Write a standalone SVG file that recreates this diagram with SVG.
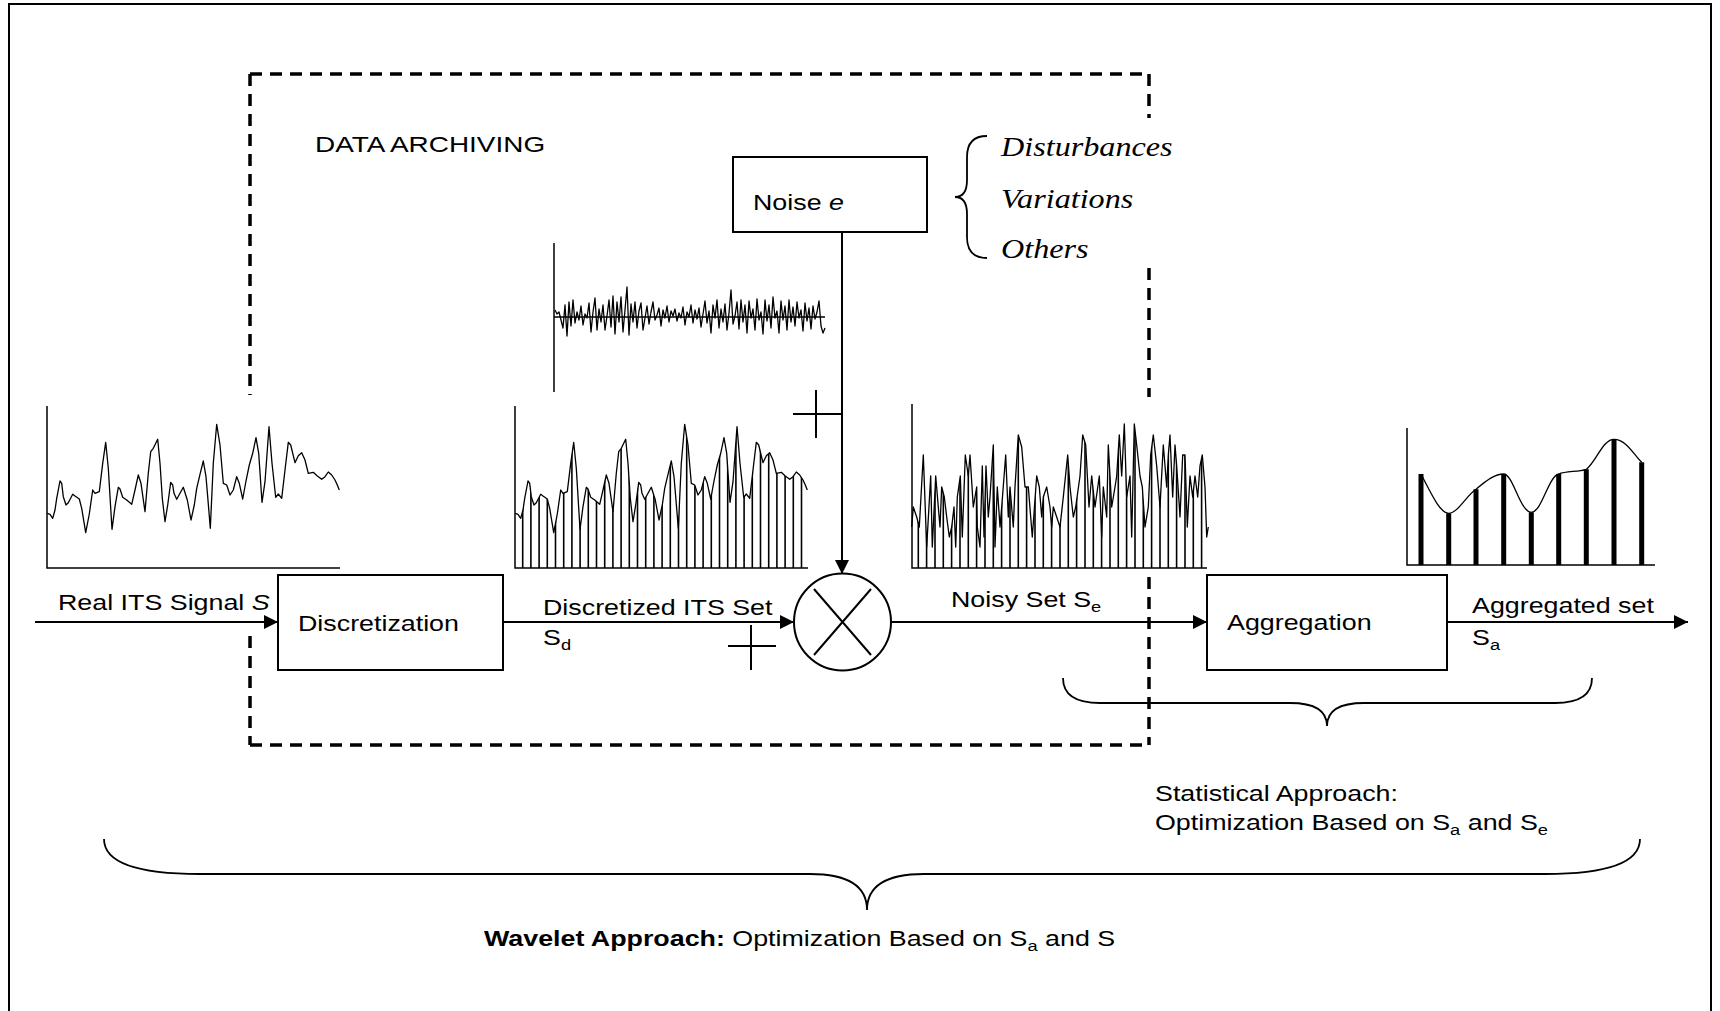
<svg xmlns="http://www.w3.org/2000/svg" xmlns:xlink="http://www.w3.org/1999/xlink" width="1720" height="1011" viewBox="0 0 1720 1011">
  <style>
    .frame { fill: none; stroke: #000; stroke-width: 2; }
    .box { fill: #fff; stroke: #000; stroke-width: 2; }
    .line { fill: none; stroke: #000; stroke-width: 2; }
    .flow { fill: none; stroke: #000; stroke-width: 2; marker-end: url(#arrow); }
    .dash { fill: none; stroke: #000; stroke-width: 3.5; stroke-dasharray: 12 8; }
    .axis { fill: none; stroke: #000; stroke-width: 1.5; }
    .curve { fill: none; stroke: #000; stroke-width: 1.3; stroke-linejoin: round; }
    .bars { fill: none; stroke: #000; stroke-width: 1.6; }
    .bigbars { fill: none; stroke: #000; stroke-width: 5; }
    .brace { fill: none; stroke: #000; stroke-width: 1.8; }
    .lbl { font-family: "Liberation Sans", Arial, sans-serif; font-size: 22px; fill: #000; }
    .sub { font-size: 15px; }
    .it { font-family: "Liberation Serif", "Times New Roman", serif; font-style: italic; font-size: 28px; fill: #000; }
  </style>
  <defs>
    <marker id="arrow" viewBox="0 0 10 10" refX="10" refY="5" markerWidth="16" markerHeight="14" markerUnits="userSpaceOnUse" orient="auto">
      <path d="M0,0 L10,5 L0,10 Z" fill="#000"/>
    </marker>
    <!-- sampled ITS signal, reused for the raw and the discretized plots -->
    <path id="sig" d="M47.3,513.3 L50,514.3 52.7,518.3 55,510 56.7,498.3 60,481 61.7,483.3 63.3,496.7 66,505 68.3,502.7 72.7,494.3 75,496 79.3,499 81.7,508.3 85.7,532.7 89.3,514 92.7,490 95,493.3 99.3,491.7 102.7,463.3 105.7,442.3 108.3,468.3 112,529.3 115,506.7 118.3,487.3 120,489 122.7,497.3 126.7,500 131.7,504.3 135,490 138.3,475 141,483.3 145,511.7 148.3,473.3 150.7,451.7 153.3,448.3 157.7,439.3 160,463.3 162.3,498.3 165,521.7 167.7,505 170.7,482.3 172.7,485 174,493.3 176.7,499.3 183.3,487.3 187.3,500 191,520 194.3,505 196.7,488.3 200,474.3 203.3,461 206,476.7 207.7,496.7 210.3,528.3 213.3,463.3 216.7,424.3 220,445 223.3,483.3 226.7,485 230,495 233.3,490 236.7,476.7 239.3,483.3 242.7,499 246,481 249.3,465 252.7,453.3 256,437.7 258.7,453.3 262,502.3 265,481.7 269,426.7 272,463.3 275.7,497.3 278.3,494 281.7,498.3 285,470 288.3,442.3 290.7,445 295,462.7 298.3,455.7 301.7,452.7 305,460 308.3,473.3 313.3,472.3 317.3,476 321.7,479.3 325,476.7 328.3,472 331.7,475 335,480 337.3,485 339.3,490"/>
    <!-- noisy set curve -->
    <path id="noisy" d="M911.7,527 L913.3,507 916.7,517 919.3,527 923.3,455 926.7,547 930.7,476 932.3,547 935.7,476 938.3,507 940,527 941.7,487 944.3,497 946.7,517 949.3,537 951.7,527 954,507 955.7,547 957.3,497 960.3,476 962.3,537 965.3,455 968.3,476 970,455 973.3,507 976.7,487 977.3,527 980,547 982.3,466 984,537 986,466 988.3,517 990,497 993.3,445 995,547 997.3,487 1000,527 1001.7,507 1005.7,455 1008.3,517 1010,487 1013.3,527 1015,487 1018.3,435 1021.7,447 1025,487 1028.3,487 1032.3,537 1036.7,476 1039.3,487 1041.7,517 1043.3,497 1046.7,487 1050,507 1051.7,527 1053.3,507 1056.7,517 1060,527 1063.3,497 1067.7,455 1070,487 1073.3,517 1075.7,507 1080,476 1082.7,435 1085.7,445 1089,507 1091.7,476 1095,507 1099.3,476 1101.7,537 1103.3,487 1106.7,517 1108.3,445 1111.7,507 1115,487 1116.7,476 1119.3,435 1121.7,476 1124.3,424 1126.7,497 1130,476 1131.7,537 1134.3,424 1136.7,445 1140,476 1142.3,487 1145,527 1148.3,507 1150.7,455 1153.3,435 1156.7,466 1160,507 1163.3,445 1166.7,487 1168.3,455 1170,435 1172.7,497 1175,445 1176.7,466 1180,517 1182.7,455 1185,455 1187.3,527 1190,476 1192.7,497 1195,476 1197.7,497 1200,466 1202.3,455 1205,487 1206.7,537 1208.3,527"/>
    <clipPath id="underSig">
      <path transform="translate(468,0)" d="M47.3,513.3 L50,514.3 52.7,518.3 55,510 56.7,498.3 60,481 61.7,483.3 63.3,496.7 66,505 68.3,502.7 72.7,494.3 75,496 79.3,499 81.7,508.3 85.7,532.7 89.3,514 92.7,490 95,493.3 99.3,491.7 102.7,463.3 105.7,442.3 108.3,468.3 112,529.3 115,506.7 118.3,487.3 120,489 122.7,497.3 126.7,500 131.7,504.3 135,490 138.3,475 141,483.3 145,511.7 148.3,473.3 150.7,451.7 153.3,448.3 157.7,439.3 160,463.3 162.3,498.3 165,521.7 167.7,505 170.7,482.3 172.7,485 174,493.3 176.7,499.3 183.3,487.3 187.3,500 191,520 194.3,505 196.7,488.3 200,474.3 203.3,461 206,476.7 207.7,496.7 210.3,528.3 213.3,463.3 216.7,424.3 220,445 223.3,483.3 226.7,485 230,495 233.3,490 236.7,476.7 239.3,483.3 242.7,499 246,481 249.3,465 252.7,453.3 256,437.7 258.7,453.3 262,502.3 265,481.7 269,426.7 272,463.3 275.7,497.3 278.3,494 281.7,498.3 285,470 288.3,442.3 290.7,445 295,462.7 298.3,455.7 301.7,452.7 305,460 308.3,473.3 313.3,472.3 317.3,476 321.7,479.3 325,476.7 328.3,472 331.7,475 335,480 337.3,485 339.3,490 L339.3,569 L47.3,569 Z"/>
    </clipPath>
    <clipPath id="underNoisy">
      <path d="M911.7,527 L913.3,507 916.7,517 919.3,527 923.3,455 926.7,547 930.7,476 932.3,547 935.7,476 938.3,507 940,527 941.7,487 944.3,497 946.7,517 949.3,537 951.7,527 954,507 955.7,547 957.3,497 960.3,476 962.3,537 965.3,455 968.3,476 970,455 973.3,507 976.7,487 977.3,527 980,547 982.3,466 984,537 986,466 988.3,517 990,497 993.3,445 995,547 997.3,487 1000,527 1001.7,507 1005.7,455 1008.3,517 1010,487 1013.3,527 1015,487 1018.3,435 1021.7,447 1025,487 1028.3,487 1032.3,537 1036.7,476 1039.3,487 1041.7,517 1043.3,497 1046.7,487 1050,507 1051.7,527 1053.3,507 1056.7,517 1060,527 1063.3,497 1067.7,455 1070,487 1073.3,517 1075.7,507 1080,476 1082.7,435 1085.7,445 1089,507 1091.7,476 1095,507 1099.3,476 1101.7,537 1103.3,487 1106.7,517 1108.3,445 1111.7,507 1115,487 1116.7,476 1119.3,435 1121.7,476 1124.3,424 1126.7,497 1130,476 1131.7,537 1134.3,424 1136.7,445 1140,476 1142.3,487 1145,527 1148.3,507 1150.7,455 1153.3,435 1156.7,466 1160,507 1163.3,445 1166.7,487 1168.3,455 1170,435 1172.7,497 1175,445 1176.7,466 1180,517 1182.7,455 1185,455 1187.3,527 1190,476 1192.7,497 1195,476 1197.7,497 1200,466 1202.3,455 1205,487 1206.7,537 1208.3,527 L1208.3,569 L911.7,569 Z"/>
    </clipPath>
  </defs>

  <rect width="1720" height="1011" fill="#fff"/>
  <rect class="frame" x="9" y="4" width="1702" height="1030"/>

  <!-- archiving boundary (dashed, interrupted around plots and labels) -->
  <g id="data-archiving">
    <path class="dash" d="M250,74 H1149 M1149,74 V118 M1149,268 V397 M1149,577 V745 M250,745 H1149 M250,74 V395 M250,636 V745"/>
    <text class="lbl" transform="translate(315,152) scale(1.27,1)">DATA ARCHIVING</text>
  </g>

  <!-- raw signal plot -->
  <g id="plot-signal">
    <path class="axis" d="M47,406 V568 H340"/>
    <use xlink:href="#sig" class="curve"/>
  </g>

  <!-- discretized plot -->
  <g id="plot-discretized">
    <path class="axis" d="M515,406 V568 H808"/>
    <path class="bars" clip-path="url(#underSig)" d="M522.7,568V400 M530.9,568V400 M539.1,568V400 M547.3,568V400 M555.5,568V400 M563.7,568V400 M571.9,568V400 M580.1,568V400 M588.3,568V400 M596.5,568V400 M604.7,568V400 M612.9,568V400 M621.1,568V400 M629.3,568V400 M637.5,568V400 M645.7,568V400 M653.9,568V400 M662.1,568V400 M670.3,568V400 M678.5,568V400 M686.7,568V400 M694.9,568V400 M703.1,568V400 M711.3,568V400 M719.5,568V400 M727.7,568V400 M735.9,568V400 M744.1,568V400 M752.3,568V400 M760.5,568V400 M768.7,568V400 M776.9,568V400 M785.1,568V400 M793.3,568V400 M801.5,568V400"/>
    <use xlink:href="#sig" class="curve" transform="translate(468,0)"/>
  </g>

  <!-- noise plot -->
  <g id="plot-noise">
    <path class="axis" d="M554,243 V392 M554,317 H825"/>
    <path class="curve" d="M555,310 L557,314 559,312 561,320 563,328 565,305 567,336 569,302 571,326 573,300 575,323 577,312 579,320 581,306 583,325 585,314 587,318 589,303 591,332 593,312 595,298 597,330 599,309 601,322 603,305 605,330 607,316 609,300 611,327 613,296 615,334 617,302 619,322 621,297 623,332 625,310 627,287 629,335 631,304 633,322 635,302 637,328 639,311 641,303 643,330 645,318 647,306 649,324 651,312 653,302 655,320 657,315 659,308 661,326 663,310 665,318 667,306 669,322 671,311 673,316 675,309 677,321 679,313 681,318 683,307 685,325 687,312 689,317 691,305 693,323 695,310 697,319 699,308 701,327 703,314 705,301 707,323 709,311 711,333 713,305 715,318 717,300 719,328 721,309 723,322 725,304 727,330 729,313 731,290 733,324 735,316 737,302 739,329 741,300 743,322 745,305 747,333 749,301 751,318 753,309 755,330 757,299 759,320 761,312 763,334 765,300 767,321 769,305 771,328 773,297 775,318 777,311 779,333 781,301 783,320 785,306 787,330 789,300 791,322 793,307 795,326 797,302 799,318 801,310 803,331 805,303 807,321 809,308 811,329 813,306 815,319 817,312 819,301 821,326 823,333 825,328"/>
  </g>

  <!-- noisy set plot -->
  <g id="plot-noisy">
    <path class="axis" d="M912,404 V568 H1207"/>
    <path class="bars" clip-path="url(#underNoisy)" d="M918.3,568V400 M926.6,568V400 M935,568V400 M943.3,568V400 M951.6,568V400 M960,568V400 M968.3,568V400 M976.6,568V400 M985,568V400 M993.3,568V400 M1001.6,568V400 M1010,568V400 M1018.3,568V400 M1026.6,568V400 M1035,568V400 M1043.3,568V400 M1051.6,568V400 M1060,568V400 M1068.3,568V400 M1076.6,568V400 M1085,568V400 M1093.3,568V400 M1101.6,568V400 M1110,568V400 M1118.3,568V400 M1126.6,568V400 M1135,568V400 M1143.3,568V400 M1151.6,568V400 M1160,568V400 M1168.3,568V400 M1176.6,568V400 M1185,568V400 M1193.3,568V400 M1201.6,568V400"/>
    <use xlink:href="#noisy" class="curve"/>
  </g>

  <!-- aggregated plot -->
  <g id="plot-aggregated">
    <path class="axis" d="M1407,428 V565 H1655"/>
    <path class="bigbars" d="M1421,565V474 M1448.7,565V513.3 M1476,565V489.3 M1503.7,565V474 M1531.3,565V512.3 M1558.7,565V474 M1586.3,565V469.3 M1614,565V439.3 M1641.7,565V462.3"/>
    <path class="curve" d="M1421,474 C1432,495 1440,513 1448.7,513.3 C1458,513 1466,496 1476,489.3 C1487,480 1495,474 1503.7,474 C1513,474 1520,512 1531.3,512.3 C1542,512 1548,477 1558.7,474 C1566,471 1578,472 1586.3,469.3 C1596,462 1603,439 1614,439.3 C1626,439 1634,455 1641.7,462.3"/>
  </g>

  <!-- connectors -->
  <g id="connectors">
    <path class="flow" d="M35,622 H278"/>
    <path class="flow" d="M502,622 H794"/>
    <path class="flow" d="M891,622 H1207"/>
    <path class="flow" d="M1447,622 H1688"/>
    <path class="flow" d="M842,232 V574"/>
    <path class="line" d="M793,414 H841 M816,390 V438"/>
    <path class="line" d="M728,646 H776 M751,625 V670"/>
  </g>

  <g id="node-discretization">
    <rect class="box" x="278" y="575" width="225" height="95"/>
    <text class="lbl" transform="translate(298,631) scale(1.22,1)">Discretization</text>
  </g>

  <g id="node-noise">
    <rect class="box" x="733" y="157" width="194" height="75"/>
    <text class="lbl" transform="translate(753,210) scale(1.22,1)">Noise <tspan font-style="italic">e</tspan></text>
    <path class="brace" d="M987,136 Q967,136 967,157 L967,180 Q967,197 955,197 Q967,197 967,214 L967,237 Q967,258 987,258"/>
    <text class="it" transform="translate(1001,156) scale(1.15,1)">Disturbances</text>
    <text class="it" transform="translate(1001,208) scale(1.15,1)">Variations</text>
    <text class="it" transform="translate(1001,258) scale(1.15,1)">Others</text>
  </g>

  <g id="node-mixer">
    <circle class="box" cx="842.5" cy="622" r="48.5"/>
    <path class="line" d="M814,589 L871,655 M871,589 L814,655"/>
  </g>

  <g id="node-aggregation">
    <rect class="box" x="1207" y="575" width="240" height="95"/>
    <text class="lbl" transform="translate(1227,630) scale(1.22,1)">Aggregation</text>
  </g>

  <!-- flow labels -->
  <g id="labels">
    <text class="lbl" transform="translate(58,610) scale(1.22,1)">Real ITS Signal <tspan font-style="italic">S</tspan></text>
    <text class="lbl" transform="translate(543,615) scale(1.22,1)">Discretized ITS Set</text>
    <text class="lbl" transform="translate(543,645) scale(1.22,1)">S<tspan class="sub" dy="5">d</tspan></text>
    <text class="lbl" transform="translate(951,607) scale(1.22,1)">Noisy Set S<tspan class="sub" dy="5">e</tspan></text>
    <text class="lbl" transform="translate(1472,613) scale(1.22,1)">Aggregated set</text>
    <text class="lbl" transform="translate(1472,645) scale(1.22,1)">S<tspan class="sub" dy="5">a</tspan></text>
  </g>

  <!-- approaches -->
  <g id="statistical-approach">
    <path class="brace" d="M1063,678 Q1063,703 1100,703 L1290,703 Q1327,703 1327,726 Q1327,703 1364,703 L1555,703 Q1592,703 1592,678"/>
    <text class="lbl" transform="translate(1155,801) scale(1.22,1)">Statistical Approach:</text>
    <text class="lbl" transform="translate(1155,830) scale(1.22,1)">Optimization Based on S<tspan class="sub" dy="5">a</tspan><tspan dy="-5"> and S</tspan><tspan class="sub" dy="5">e</tspan></text>
  </g>

  <g id="wavelet-approach">
    <path class="brace" d="M104,839 Q104,874 200,874 L810,874 Q867,874 867,910 Q867,874 924,874 L1545,874 Q1640,874 1640,839"/>
    <text class="lbl" transform="translate(484,946) scale(1.22,1)"><tspan font-weight="bold">Wavelet Approach:</tspan> Optimization Based on S<tspan class="sub" dy="5">a</tspan><tspan dy="-5"> and S</tspan></text>
  </g>
</svg>
